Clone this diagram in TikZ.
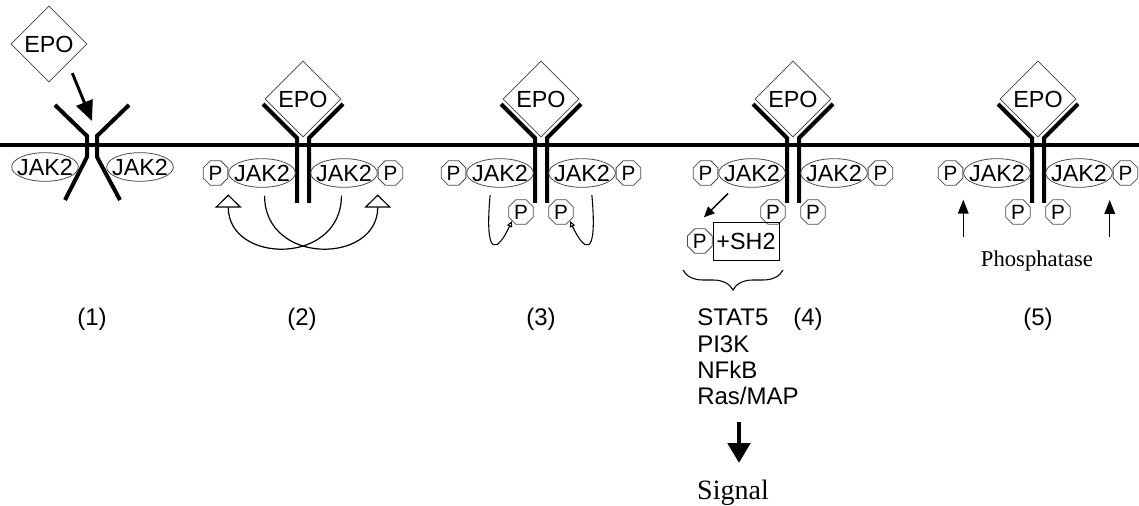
\documentclass[tikz,border=0pt]{standalone}
\usepackage{fontspec}
\setmainfont{Liberation Serif}
\setsansfont{Liberation Sans}
\usetikzlibrary{arrows.meta, positioning, shapes.geometric, decorations.pathreplacing}

\begin{document}
\begin{tikzpicture}[
  x=0.75pt, y=-0.75pt,
  epo/.style={diamond, draw=black!75, line width=0.6pt, minimum size=57pt, inner sep=0pt, font=\sffamily\fontsize{17.5}{19}\selectfont},
  jak/.style={ellipse, draw=black!70, line width=0.6pt, minimum width=50pt, minimum height=21.5pt, inner sep=0pt, font=\sffamily\fontsize{17.5}{19}\selectfont},
  phos/.style={regular polygon, regular polygon sides=8, draw=black!70, line width=0.6pt, minimum size=20pt, inner sep=0pt, font=\sffamily\fontsize{15.5}{17}\selectfont},
  rec/.style={line width=3pt},
  membrane/.style={line width=2.6pt},
  lbl/.style={inner sep=0pt, font=\sffamily\fontsize{18}{20}\selectfont},
  serif/.style={inner sep=0pt, font=\rmfamily\fontsize{17}{20}\selectfont},
  bindarrow/.style={-{Triangle[length=15pt, width=13pt]}, line width=2.2pt},
  openarrow/.style={-{Triangle[open, length=10pt, width=20pt]}, line width=0.9pt},
  smallarrow/.style={-{Triangle[open, length=4.5pt, width=4pt]}, line width=0.8pt},
  arrow/.style={-{Triangle[length=8pt, width=7pt]}, line width=1.1pt},
  uparrow/.style={-{Triangle[length=10.5pt, width=8pt]}, line width=1pt},
  sigarrow/.style={-{Triangle[length=15pt, width=16.5pt]}, line width=3.7pt}
]
\useasboundingbox (0,0) rectangle (1139,506);

% cell membrane
\draw[membrane] (0,145) -- (1139,145);

% (1) free EPO and unbound receptor
\node[epo] (epo1) at (49,44) {EPO};
\coordinate (bind1) at (92,121);
\draw[bindarrow, shorten <=8pt] (epo1.south east) -- (bind1);
\draw[rec] (55,105) -- (87,136) -- (87,157) -- (65,200);
\draw[rec] (129,105) -- (97,136) -- (97,157) -- (120,200);
\node[jak] (jakL1) at (45,167) {\makebox[0pt]{JAK2}};
\node[jak] (jakR1) at (140,167) {\makebox[0pt]{JAK2}};

% (2)-(5) EPO bound receptor dimer
\foreach \i/\cx in {2/303, 3/541, 4/793, 5/1038} {
  \node[epo] (epo\i) at (\cx,99) {EPO};
  \draw[rec] (\cx-40,104) -- (\cx-6,138) -- (\cx-6,203);
  \draw[rec] (\cx+40,104) -- (\cx+6,138) -- (\cx+6,203);
  \node[jak] (jakL\i) at (\cx-41,173) {\makebox[0pt]{JAK2}};
  \node[jak] (jakR\i) at (\cx+41,173) {\makebox[0pt]{JAK2}};
  \node[phos, left=0pt of jakL\i] (pL\i) {P};
  \node[phos, right=0pt of jakR\i] (pR\i) {P};
}
\foreach \i/\cx in {3/541, 4/793, 5/1038} {
  \node[phos] (piL\i) at (\cx-20,212) {P};
  \node[phos] (piR\i) at (\cx+20,212) {P};
}

% (2) cross phosphorylation
\draw[openarrow] ([yshift=-6pt]jakL2.-80) .. controls +(0,70) and +(0,70) .. ([yshift=-16pt]jakR2.east);
\draw[openarrow] ([yshift=-6pt]jakR2.-100) .. controls +(0,70) and +(0,70) .. ([yshift=-16pt]jakL2.west);

% (3) receptor tyrosines
\draw[smallarrow] ([yshift=-6pt]jakL3.-125) .. controls +(-6,66) and +(-14,30) .. (piL3.south west);
\draw[smallarrow] ([yshift=-6pt]jakR3.-55) .. controls +(6,66) and +(14,30) .. (piR3.south east);

% (4) SH2 docking
\node[draw, line width=0.6pt, minimum width=49.5pt, minimum height=28.5pt, inner sep=0pt, font=\sffamily\fontsize{17.5}{19}\selectfont] (sh2) at (746,241) {+SH2};
\node[phos, left=0pt of sh2] (pS4) {P};
\draw[arrow] ([shift={(0,10)}]jakL4.south west) -- ([shift={(4,-11)}]pS4.north);
\coordinate (brR) at (783,270);
\coordinate (brL) at (683,270);
\draw[decorate, decoration={brace, amplitude=15pt}, line width=0.8pt] (brR) -- (brL);
\node[lbl, anchor=base west] (stat) at (697,325) {STAT5};
\node[lbl, anchor=base west] (pik) at (697,352) {PI3K};
\node[lbl, anchor=base west] (nfkb) at (697,378) {NFkB};
\node[lbl, anchor=base west] (ras) at (697,404) {Ras/MAP};
\coordinate (sigtop) at (739,422);
\coordinate (sigbot) at (739,463);
\draw[sigarrow] (sigtop) -- (sigbot);
\node[serif, font=\rmfamily\fontsize{21}{24}\selectfont, anchor=base] (signal) at (733,499) {Signal};

% (5) dephosphorylation
\draw[uparrow] ([yshift=-48pt]jakL5.west) -- ([yshift=-20pt]jakL5.west);
\draw[uparrow] ([shift={(-3,64)}]jakR5.east) -- ([shift={(-3,27)}]jakR5.east);
\node[serif, anchor=base] (phosph) at (1037,267) {Phosphatase};

% step numbers
\node[lbl, anchor=base] (n1) at (92,325) {(1)};
\node[lbl, anchor=base] (n2) at (302,325) {(2)};
\node[lbl, anchor=base] (n3) at (541,325) {(3)};
\node[lbl, anchor=base] (n4) at (808,325) {(4)};
\node[lbl, anchor=base] (n5) at (1038,325) {(5)};
\end{tikzpicture}
\end{document}
